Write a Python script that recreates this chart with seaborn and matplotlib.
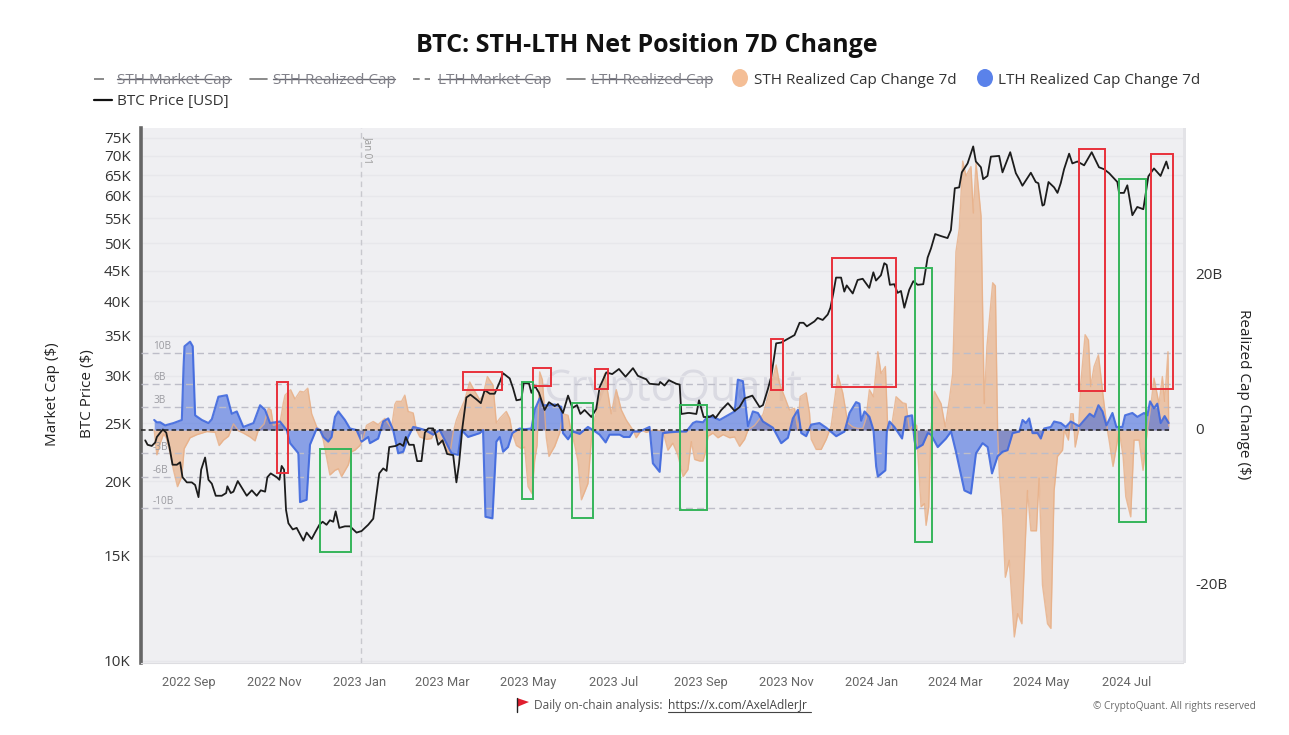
import matplotlib
matplotlib.use("Agg")
import matplotlib.pyplot as plt
from matplotlib.lines import Line2D
from matplotlib.patches import Rectangle, Polygon, Ellipse
from matplotlib.transforms import blended_transform_factory, ScaledTranslation
import numpy as np
import pandas as pd
import seaborn as sns

# values, days are counted from 2022-08-01
price_days = [
    0, 1.7, 4.7, 7.1, 8.3, 10.7, 12.6, 15, 17.3, 19.5, 22.6, 24.9, 26.6, 29.7, 33.2, 35.6, 38, 39.9, 42.7, 45.1,
    47.5, 50.3, 54.6, 57.7, 58.6, 61, 62.9, 66, 70, 72.4, 76, 79.5, 82.4, 85.5, 87.1, 89.5, 93.8, 95.7, 97.3, 99,
    100.4, 102.1, 105.2, 108, 112.8, 115.1, 118.7, 121.1, 124.2, 126.5, 129.3, 131.7, 134.1, 135.8, 138.4, 142.4,
    146, 150.7, 154.3, 159, 162.6, 165, 166.9, 169.7, 172.1, 174, 178.7, 181.6, 184, 185.8, 188.2, 191.5, 193.9,
    197, 199.4, 201.8, 205.3, 207.2, 208.9, 212, 215.3, 219.6, 221.9, 223.8, 226.2, 229, 231.9, 236.2, 239.3,
    242.1, 245.7, 249.2, 252.8, 255.2, 259.9, 262.3, 264.7, 268.2, 269.9, 273.7, 275.4, 277.7, 280.8, 284.8,
    287.9, 292, 294.3, 297.9, 301.5, 304.6, 307.9, 310.3, 313.3, 318.1, 321.6, 324, 328.8, 333, 337.8, 342.5,
    347.8, 351.3, 357.3, 359.6, 366.3, 367.2, 370.3, 373.4, 378.6, 381.1, 382.3, 387, 388.2, 393, 394.9, 398.2,
    402.5, 404.8, 406.7, 410.8, 415.5, 420.3, 423.8, 427.4, 432.9, 438.1, 440.5, 444, 446.4, 449.9, 453.5, 458.3,
    463, 466.6, 469.4, 471.8, 477.2, 479.5, 483.1, 486.7, 488.6, 490.7, 492.6, 496.2, 498.5, 500.2, 504.5, 508,
    511.6, 516.3, 519.2, 521.1, 524.6, 527, 528.7, 531, 534.1, 536.5, 538.9, 541.3, 544.8, 547.7, 550.8, 554.8,
    557.9, 560.3, 563.3, 567.4, 572.1, 574.5, 577.3, 580.4, 582.3, 586.4, 590.4, 592.3, 595.9, 597.5, 600.6, 603,
    608.9, 611.3, 616.8, 620.8, 623.2, 625.5, 631.5, 635, 636.9, 639.8, 641, 644.1, 648.1, 650.5, 652.8, 655.2,
    658.8, 661.1, 664.7, 669.5, 674.9, 680.1, 683.7, 687.3, 693.2, 694.4, 697.9, 700.3, 703.9, 707.4, 711.7,
    715.3, 719.3, 724, 728.1, 729.5,
]
btc_price = [
    23.4, 23, 22.9, 23.2, 23.7, 24.1, 24.4, 24.1, 22.8, 21.3, 21.3, 21.5, 20.3, 19.9, 19.9, 19.7, 18.8, 20.9, 21.9, 20.1,
    19.8, 18.9, 18.9, 19.1, 19.6, 19.1, 19.2, 20, 19.3, 18.9, 19.3, 18.9, 19.3, 19.2, 20.3, 20.6, 20.3, 20.1, 21.2, 20.9,
    17.9, 17, 16.6, 16.7, 15.9, 16.4, 16, 16.4, 16.9, 17.1, 16.9, 17.2, 17.1, 17.8, 16.7, 16.8,
    16.8, 16.4, 16.5, 16.9, 17.3, 19.1, 20.6, 21, 20.8, 22.8, 22.9, 23.1, 22.9, 23.7, 23, 23, 21.6,
    21.6, 24.1, 24.5, 24.5, 23.9, 23, 23.4, 22.2, 22.1, 19.9, 21.4, 24.6, 27.6, 27.9, 27.4, 27,
    28.4, 28, 28, 29.3, 30.3, 29.7, 28.6, 27.3, 27.4, 29.2, 29.1, 28.1, 28.9, 28.1, 26.3,
    27.1, 26.7, 26.9, 26, 27.8, 26.5, 26.8, 25.9, 26.3, 25.6, 26.4, 28.7, 30.4, 30.2, 30.8, 29.9,
    30.9, 30, 29.6, 29.1, 29, 29.3, 28.9, 29.5, 29.1, 29, 25.9, 26, 26, 25.9, 27.3, 25.6,
    25.6, 25.8, 25.5, 26.3, 27, 26.2, 26.6, 27.5, 27.8, 26.6, 26.8, 28.5, 29.9, 34, 34.1, 34.6,
    35.1, 36.8, 36.8, 36.3, 37, 37.5, 37.2, 38, 39, 41.3, 43.8, 43.8, 41.5, 42.5, 41.2, 43.4,
    43.6, 42.1, 44.7, 43.3, 44.2, 46.3, 46, 42.6, 42.7, 41.3, 41.6, 39, 41.8, 43.2, 42.6, 42.7,
    47.3, 49, 51.8, 51.4, 51, 52.6, 61.8, 62, 65.7, 68, 72.6, 68.5, 67, 64, 64.8, 69.8,
    70, 65.7, 71, 65.5, 64, 62.4, 65.6, 63.3, 63, 57.8, 58, 63.3, 62, 60.7, 63, 66.5,
    70.6, 68, 68.5, 67.5, 71, 67, 66.5, 65.5, 63.3, 60.7, 60.7, 62.5, 55.7, 57.5, 57,
    64.7, 66.7, 64.8, 68.5, 66.7,
]
sth_days = [
    6.4, 8.3, 10.7, 13.1, 15, 17.8, 20.2, 23, 26.1, 27.8, 32, 36.8, 43.9, 49.9, 52.7, 55.8, 59.4, 62.9, 66.5, 70,
    74.8, 78.3, 80.7, 84.8, 87.8, 89.7, 91.4, 96.1, 98.5, 99.7, 103.7, 106.8, 110.4, 113.2, 115.9, 118.7, 122.3,
    124.6, 127, 131.7, 135.3, 137.7, 140, 144.8, 147.2, 149.5, 153.1, 155.5, 157.8, 162.6, 166.1, 170.9, 175.6,
    178, 179.2, 182.8, 185.1, 187.5, 191.1, 193.4, 195.8, 200.6, 204.1, 206.5, 208.9, 213.6, 217.2, 219.6, 221.9,
    224.3, 227.9, 231.4, 235, 238.6, 240.9, 244, 248, 250.4, 252.8, 257.5, 259.9, 261.8, 264.7, 268.2, 270.6,
    273, 275.8, 277.7, 279.4, 281.3, 283.2, 284.8, 286, 287.9, 292, 295.5, 297.9, 301.5, 303.8, 306.2, 308.6,
    311, 313.3, 315.7, 318.1, 320.5, 322.8, 327.6, 330, 332.3, 335.9, 339.5, 343, 347.8, 350.1, 353.7, 357.3,
    362, 369.1, 372.7, 376.2, 379.8, 383.5, 387, 389.4, 391.8, 395.3, 397.7, 399.6, 401.3, 404.8, 408.4, 412,
    416.7, 420.3, 423.8, 427.4, 429.8, 434.5, 440.5, 445.2, 449.9, 452.3, 455.9, 459.4, 463, 465.4, 467, 471.3,
    473.7, 474.9, 478.4, 482, 485.6, 489.1, 493.9, 497.4, 501, 504.5, 508.1, 511.7, 514, 516.4, 519.3, 522.4,
    524.7, 527.8, 529.5, 531.9, 535.4, 540.2, 542.5, 544.9, 548.5, 550.1, 550.8, 553.2, 555.6, 556.8, 558.7,
    560.3, 562.7, 567.5, 570.5, 573.4, 575.8, 578.1, 580.5, 582.9, 585.3, 588.8, 590.5, 592.4, 596, 598.3, 600.2,
    604.3, 606.2, 607.8, 609, 611.4, 613.3, 616.1, 619.7, 622.1, 625.1, 626.8, 629.1, 631.5, 635.5, 637.4, 639.8,
    643.4, 645.8, 648.1, 650.5, 654.1, 655.3, 658.3, 660, 661.7, 663.1, 665.5, 667.1, 670.2, 672.6, 674.2, 676.6,
    679.7, 683.7, 686.1, 687.3, 690.1, 692.5, 694.4, 697.3, 699.2, 702.7, 705.1, 708.7, 711.5, 714.6, 717, 719.3,
    722.9, 725.3, 726.9, 729.3, 729.8,
]
sth_change = [
    0, -3.2, -1.7, -0.5, -1.0, -3.0, -5.2, -7.3, -6.0, -2.4, -1.0, -0.6, -0.2, -0.3, -2.0, -1.3, -0.8, 0.8, -0.1, -0.4,
    -0.9, -1.4, 0, 0.8, 2.8, 2.6, 0.6, 0.9, 3.5, 4.5, 5.2, 4.0, 5.0, 4.9, 5.4, 2.1, 0.4,
    0, -1.3, -5.8, -5.2, -5.0, -6.0, -4.5, -2.8, -2.6, -2.0, -1.0, 0.6, 1.1, 0.7, 1.5, 0.2,
    3.3, 3.7, 3.7, 4.5, 2.4, 2.2, 0, -0.9, -1.2, -1.1, -0.1, -1.0, -2.1, -3.2, -0.3, 1.3,
    2.4, 3.9, 6.2, 5.0, 3.9, 4.5, 6.9, 5.8, 0.9, 1.5, 2.4, 1.5, -0.4, -2.0, -2.4, -2.2,
    -7.3, -8.2, -3.9, -2.0, 7.5, 6.5, 2.4, -1.0, -3.4, -2.1, -0.4, 2.1, 1.9, -0.2, -1.9, -4.0,
    -9.0, -8.0, -6.9, -1.3, 1.5, 3.0, 7.3, 4.7, 2.1, 5.2, 2.6, 1.3, 0, -1.0, 0, -0.3,
    0, -0.1, -2.6, -1.7, -3.2, -6.0, -5.1, -1.5, -3.8, -4.0, -4.0, -2.8, -0.8, -0.4, -1.0, -0.6,
    -1.0, -0.9, -2.1, -1.2, 0, 0.6, 2.0, 5.0, 8.4, 6.0, 4.3, 2.6, 2.8, 0, 4.3, 4.8,
    2.2, -1.2, -2.5, -2.5, -1.2, 0.5, 7.1, 4.8, 0.9, 0.4, 0.2, 0.2, 1.5, 5.2, 4.3, 10.1,
    7.3, 8.2, 0, 0.1, 4.3, 3.5, 3.4, 0, 0.8, 0.6, -2.6, -9.9, -9.5, -12.3, -9.9,
    0, 5.0, 3.4, 0.4, 3.9, 7.3, 23.0, 26.0, 34.7, 32.8, 34.0, 28.0, 34.5, 27.6, 3.4, 10.8,
    19.0, 18.6, 0, -5.6, -11.2, -19.0, -16.8, -26.7, -23.7, -25.0, -17.7, -7.8, -13.0, -13.0, -6.2, -20.0,
    -25.0, -25.6, -7.8, -3.4, -2.6, 0, -1.3, 2.1, 2.1, -2.2, 0, 6.0, 12.3, 11.6, 5.6, 8.2,
    9.7, 3.4, 0, -1.3, -4.7, -2.2, 0, -3.4, -8.6, -11.2, -1.3, -1.3, -5.2, 0, 3.0, 6.7,
    3.4, 6.9, 3.7, 10.1, 0.5,
]
lth_days = [
    6.4, 8.3, 10.7, 14.2, 20.2, 26.1, 27.3, 28, 32, 33.9, 35.6, 40.4, 45.1, 47.5, 52.2, 58.2, 61.7, 65.3, 70, 77.2,
    81.9, 85.5, 89, 96.1, 100.9, 103.3, 109.2, 110.4, 115.1, 117.5, 122.3, 124.6, 127, 130.5, 132.9, 135.3, 137.7,
    142.4, 146, 150.7, 154.3, 159, 160.2, 166.1, 169.7, 173.3, 176.8, 180.4, 184, 187.5, 191.1, 195.8, 199.4,
    205.3, 210, 214.8, 218.4, 223.1, 225.5, 230.2, 238.6, 240.9, 242.6, 247.6, 250.4, 252.8, 255.2, 258.7, 261.8,
    267, 270.6, 275.4, 277.7, 281.3, 283.7, 287.2, 292, 296.7, 297.9, 301.5, 305, 309.8, 315.7, 319.3, 324, 328.3,
    331.1, 338.3, 341.1, 345.4, 347.8, 352.5, 359.6, 362, 366.8, 369.1, 373.9, 381, 385.8, 390.6, 393, 397.7,
    401.3, 406, 409.6, 420.3, 422.6, 426.2, 429.8, 433.3, 436.9, 440.5, 447.6, 453.5, 458.3, 461.8, 465.4, 467.8,
    471.3, 474.9, 480.8, 485.6, 492.7, 498.6, 502.2, 506.9, 509.3, 510.5, 512.9, 516.4, 519.3, 521.2, 522.4, 527.8,
    528.8, 530.7, 534.2, 539.7, 542.1, 546.8, 548.5, 549.7, 554.4, 558, 560.3, 565.1, 571, 574.6, 578.1, 584.1,
    588.8, 592.4, 597.1, 600.7, 603.8, 607.8, 611.4, 614.9, 618.5, 623.3, 625.6, 628, 630.3, 632.7, 636.3, 638.6,
    641, 645.8, 648.1, 652.9, 656.4, 660, 665.9, 670.7, 673.5, 676.6, 679.7, 682.6, 685.4, 689.7, 692.5, 696.8,
    698.7, 703.9, 707.5, 712.2, 714.6, 716.5, 719.3, 721.7, 724.1, 726.9, 729.8,
]
lth_change = [
    1.3, 1.0, 1.0, 0.6, 0.9, 1.3, 8.0, 10.8, 11.4, 10.8, 1.9, 1.3, 0.9, 1.4, 4.3, 4.5, 2.1, 2.4, 0.4, 0.9,
    3.2, 2.6, 0.9, 1.1, 0, -1.7, -3.0, -9.3, -9.0, -1.9, 0.2, 0, -0.9, -1.5, -0.9, 1.7, 2.4,
    1.3, 0.2, 0, -1.5, -0.9, -1.7, -1.1, 1.1, 1.5, 0, -3.0, -2.8, -0.9, 0.4, 0.2, 0,
    -0.6, 0, -1.7, -3.0, -3.2, 0, -0.9, -0.4, 0, -11.2, -11.4, -1.5, -0.9, -2.8, -2.2, -0.4,
    0.2, 0.1, 0.2, 2.6, 4.1, 3.2, 3.2, 3.3, 3.0, -0.4, -1.2, -0.2, -0.5, 0.4, 0, -0.6, -1.6,
    -0.6, -0.6, -0.9, -0.9, -0.2, -0.2, 0.4, -4.3, -5.4, -0.4, -0.3, -0.2, -0.2, 0.9, 1.1, 1.0,
    1.8, 1.6, 1.3, 2.4, 6.5, 6.3, 0.5, 2.4, 2.2, 1.1, 0.3, -1.7, -1.0, 1.5, 2.6, -0.4,
    -0.8, 0.7, 0.9, 0.3, -0.8, -0.2, 2.2, 3.6, 3.4, 1.2, 2.4, 1.7, 0, -4.7, -6.0, -5.2,
    -0.2, 1.1, 0.4, -1.1, 1.7, 1.9, -1.3, -2.4, -1.9, -0.4, -0.6, -2.2, -1.1, -0.2, -2.8, -7.8,
    -8.2, -3.0, -1.7, -2.2, -5.6, -3.4, -2.8, -2.6, -0.4, -0.2, 1.3, 0.9, 1.5, -0.4, -0.4, -1.1,
    0.2, 0.4, 1.1, 0.9, 0.4, 1.1, 0.5, 1.5, 2.1, 1.7, 3.2, 2.4, 0.6, 2.2, 0.4, 0.4,
    1.9, 2.2, 1.7, 2.2, 1.9, 3.7, 2.8, 3.4, 0.9, 1.8, 0.9,
]

price_ticks = [10, 15, 20, 25, 30, 35, 40, 45, 50, 55, 60, 65, 70, 75]
flow_levels = [10, 6, 3, -3, -6, -10]
month_ticks = ["2022-09-01", "2022-11-01", "2023-01-01", "2023-03-01", "2023-05-01", "2023-07-01",
               "2023-09-01", "2023-11-01", "2024-01-01", "2024-03-01", "2024-05-01", "2024-07-01"]

W, H = 1289, 735
# note boxes drawn by hand on the chart, left, top, right, bottom in image pixels
red_boxes = [(277, 382, 288, 473), (463, 372, 502, 390), (533, 368, 551, 386), (595, 369, 608, 389),
             (771, 339, 783, 390), (832, 258, 896, 387), (1079, 149, 1105, 391), (1151, 154, 1173, 389)]
green_boxes = [(320, 449, 351, 552), (522, 382, 533, 499), (572, 403, 593, 518), (680, 405, 707, 510),
               (915, 268, 932, 542), (1119, 179, 1146, 522)]

ORANGE = "#E8AE84"
BLUE = "#3F68DE"
BG = "#EFEFF2"


def fx(x):
    return x / W


def fy(y):
    return 1 - y / H


def to_dates(days):
    return pd.Timestamp("2022-08-01") + pd.to_timedelta(days, unit="D")


sns.set_theme(style="white")
plt.rcParams["font.family"] = ["Open Sans", "DejaVu Sans"]

price_df = pd.DataFrame({"date": to_dates(price_days), "price": np.array(btc_price) * 1000})
sth_df = pd.DataFrame({"date": to_dates(sth_days), "change": sth_change})
lth_df = pd.DataFrame({"date": to_dates(lth_days), "change": lth_change})

fig = plt.figure(figsize=(W / 100, H / 100), dpi=100)
ax = fig.add_axes([fx(141), fy(663), (1183 - 141) / W, (663 - 128) / H])
flow_ax = ax.twinx()
price_ax = ax.twinx()

x_min = pd.Timestamp("2022-07-29")
x_max = pd.Timestamp("2024-08-10")

# bottom layer: price grid and left ticks
ax.set_facecolor(BG)
ax.set_yscale("log")
ax.set_ylim(9923, 77940)
ax.set_xlim(x_min, x_max)
ax.set_yticks([t * 1000 for t in price_ticks])
ax.set_yticklabels([f"{t}K" for t in price_ticks], fontsize=11, color="#333333")
ax.minorticks_off()
ax.yaxis.grid(True, color="#E7E7EB", lw=1)
ax.set_axisbelow(True)
ax.set_xticks([pd.Timestamp(m) for m in month_ticks])
ax.set_xticklabels([])
ax.tick_params(axis="x", length=4, color="#D8D8DC")
ax.tick_params(axis="y", length=0, pad=7.5)
# Roboto here, the J of Open Sans drops below the line and pushes the whole label down
month_transform = blended_transform_factory(ax.transData, fig.transFigure)
for m in month_ticks:
    ax.text(pd.Timestamp(m), fy(686), pd.Timestamp(m).strftime("%Y %b"), transform=month_transform,
            ha="center", va="baseline", fontsize=9.3, color="#666666", clip_on=False, family="Roboto")
ax.spines["left"].set_color("#666666")
ax.spines["left"].set_linewidth(2.6)
ax.spines["bottom"].set_color("#DDDDE1")
ax.spines["bottom"].set_linewidth(0.8)
ax.spines["top"].set_visible(False)
ax.spines["right"].set_visible(False)

ax.text(fx(673), fy(390), "CryptoQuant", transform=fig.transFigure, ha="center", va="center",
        fontsize=31, color="#DADAE2", zorder=0.5)

# flows
flow_ax.patch.set_visible(False)
flow_ax.set_ylim(-30.06, 38.97)
flow_ax.fill_between(sth_df["date"], 0, sth_df["change"], color=ORANGE, alpha=0.68, lw=0)
sns.lineplot(data=sth_df, x="date", y="change", ax=flow_ax, color=ORANGE, lw=1, alpha=0.8, estimator=None)
flow_ax.fill_between(lth_df["date"], 0, lth_df["change"], color=BLUE, alpha=0.58, lw=0)
sns.lineplot(data=lth_df, x="date", y="change", ax=flow_ax, color=BLUE, lw=1.5, alpha=0.9, estimator=None)
for level in flow_levels:
    flow_ax.axhline(level, color="#BDBDC8", lw=1, ls=(0, (5, 3)), zorder=1)
    fig.text(fx(153), fy(430 - level * 7.75 - 6), f"{level}B", fontsize=7.2, color="#9A9AA0", va="center", zorder=6)
flow_ax.axhline(0, color="#222222", lw=1.1, ls=(0, (3, 2)), xmax=0.987, zorder=5)
flow_ax.set_yticks([-20, 0, 20])
flow_ax.set_yticklabels(["-20B", "0", "20B"], fontsize=11, color="#333333")
flow_ax.tick_params(axis="y", length=0, pad=9)
for label in flow_ax.get_yticklabels():
    label.set_transform(label.get_transform() + ScaledTranslation(0, 1.5 / 100, fig.dpi_scale_trans))
flow_ax.set_xlabel("")
flow_ax.set_ylabel("")
for s in flow_ax.spines.values():
    s.set_visible(False)

# price on top
price_ax.set_yscale("log")
price_ax.set_ylim(9923, 77940)
price_ax.patch.set_visible(False)
sns.lineplot(data=price_df, x="date", y="price", ax=price_ax, color="#1C1C1C", lw=1.3, estimator=None)
price_ax.axvline(pd.Timestamp("2023-01-02"), color="#C8C8CE", lw=1, ls=(0, (4, 3)), zorder=0)
price_ax.set_yticks([])
price_ax.minorticks_off()
price_ax.set_ylabel("")
price_ax.set_xlabel("")
price_ax.tick_params(axis="both", which="both", length=0)
for s in price_ax.spines.values():
    s.set_visible(False)
ax.set_xlim(x_min, x_max)
flow_ax.set_xlim(x_min, x_max)
price_ax.set_xlim(x_min, x_max)
ax.set_xlabel("")

fig.text(fx(368), fy(150), "Jan 01", rotation=270, fontsize=7, color="#999999", ha="center", va="center")

# hand drawn boxes
for color, boxes in (("#E8303A", red_boxes), ("#35B55A", green_boxes)):
    for left, top, right, bottom in boxes:
        fig.add_artist(Rectangle((fx(left), fy(bottom)), (right - left) / W, (bottom - top) / H,
                                 transform=fig.transFigure, fill=False, edgecolor=color, lw=1.4, zorder=8))

# right edge strip
fig.add_artist(Rectangle((fx(1183), fy(663)), 3 / W, 535 / H, transform=fig.transFigure,
                         facecolor="#E3E3E7", lw=0))

# title and axis names
fig.text(fx(647), fy(46), "BTC: STH-LTH Net Position 7D Change", ha="center", va="center",
         fontsize=18, fontweight="bold", color="#111111")
fig.text(fx(52), fy(394), "Market Cap ($)", rotation=90, ha="center", va="center", fontsize=11, color="#222222")
fig.text(fx(87), fy(394), "BTC Price ($)", rotation=90, ha="center", va="center", fontsize=11, color="#222222")
fig.text(fx(1243), fy(394), "Realized Cap Change ($)", rotation=270, ha="center", va="center", fontsize=11,
         color="#222222")

# legend, hidden series are struck through
hidden_items = [("STH Market Cap", 94, 107, 117, 231, (0, (6, 2, 1, 2))), ("STH Realized Cap", 250, 267, 273, 395, "-"),
                ("LTH Market Cap", 413, 430, 438, 549, (0, (4, 3))), ("LTH Realized Cap", 567, 585, 591, 712, "-")]
for label, h0, h1, t0, t1, style in hidden_items:
    fig.add_artist(Line2D([fx(h0), fx(h1)], [fy(79), fy(79)], color="#777777", lw=1.2, ls=style))
    fig.text(fx(t0), fy(81), label, fontsize=11, color="#808088", va="center")
    fig.add_artist(Line2D([fx(t0), fx(t1)], [fy(79), fy(79)], color="#666670", lw=1))
for cx, color in ((740, "#F4BE96"), (985, "#5A82EA")):
    fig.add_artist(Ellipse((fx(cx), fy(78)), 16 / W, 18 / H, transform=fig.transFigure, facecolor=color, lw=0))
fig.text(fx(754), fy(81), "STH Realized Cap Change 7d", fontsize=11, color="#333333", va="center")
fig.text(fx(998), fy(81), "LTH Realized Cap Change 7d", fontsize=11, color="#333333", va="center")
fig.add_artist(Line2D([fx(94), fx(112)], [fy(100), fy(100)], color="#111111", lw=1.6))
fig.text(fx(117), fy(102), "BTC Price [USD]", fontsize=11, color="#333333", va="center")

# footer
fig.add_artist(Polygon([(fx(517), fy(698)), (fx(529), fy(702)), (fx(517), fy(707))], closed=True,
                       transform=fig.transFigure, facecolor="#E01E2E", lw=0))
fig.add_artist(Line2D([fx(516.5), fx(516.5)], [fy(698), fy(712)], color="#222222", lw=1))
fig.text(fx(534), fy(706), "Daily on-chain analysis:", fontsize=8.6, color="#555555", va="center")
fig.text(fx(668), fy(706), "https://x.com/AxelAdlerJr", fontsize=8.6, color="#444444", va="center")
fig.add_artist(Line2D([fx(668), fx(811)], [fy(712), fy(712)], color="#444444", lw=0.8))
fig.text(fx(1256), fy(706), "© CryptoQuant. All rights reserved", fontsize=7.3, color="#6A6A6A", va="center", ha="right")

fig.savefig("out.png", dpi=100, facecolor="white")
